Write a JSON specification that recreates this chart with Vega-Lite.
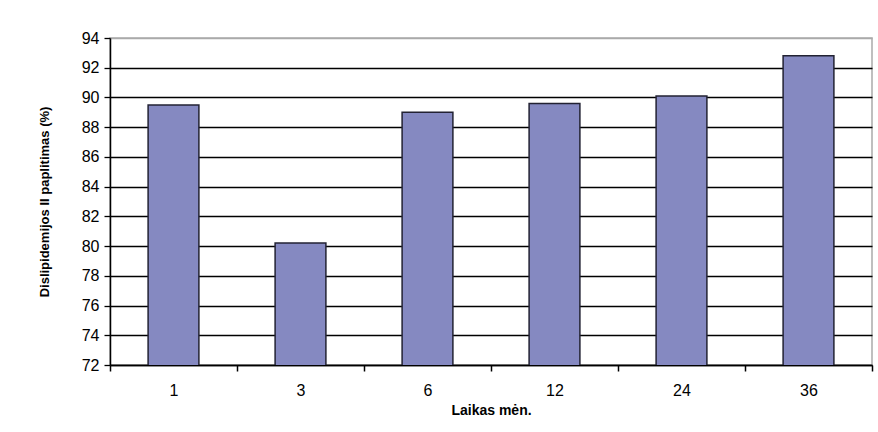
{
  "$schema": "https://vega.github.io/schema/vega-lite/v6.json",
  "width": 762,
  "height": 327,
  "autosize": {"type": "none"},
  "padding": {"left": 110, "top": 38, "right": 6, "bottom": 67},
  "background": "white",
  "data": {
    "values": [
      {"month": "1", "value": 89.5},
      {"month": "3", "value": 80.2},
      {"month": "6", "value": 89.0},
      {"month": "12", "value": 89.6},
      {"month": "24", "value": 90.1},
      {"month": "36", "value": 92.8}
    ]
  },
  "mark": {"type": "bar", "fill": "#8589C1", "stroke": "#222233", "strokeWidth": 1.5, "width": {"band": 0.4}, "clip": true},
  "encoding": {
    "x": {
      "field": "month",
      "type": "ordinal",
      "sort": null,
      "scale": {"paddingInner": 0, "paddingOuter": 0},
      "axis": {
        "title": "Laikas mėn.",
        "labelAngle": 0,
        "tickBand": "extent",
        "grid": false,
        "domainColor": "#000",
        "domainWidth": 1.5,
        "tickColor": "#000",
        "tickWidth": 1.5,
        "tickSize": 6,
        "labelPadding": 11,
        "labelFont": "Liberation Sans",
        "labelFontSize": 16,
        "labelColor": "#000",
        "titleFont": "Liberation Sans",
        "titleFontSize": 14,
        "titleFontWeight": "bold",
        "titleColor": "#000",
        "titlePadding": 5
      }
    },
    "y": {
      "field": "value",
      "type": "quantitative",
      "scale": {"domain": [72, 94], "zero": false, "nice": false},
      "axis": {
        "title": "Dislipidemijos II paplitimas (%)",
        "values": [72, 74, 76, 78, 80, 82, 84, 86, 88, 90, 92, 94],
        "grid": true,
        "gridColor": {"condition": {"test": "datum.value == 94", "value": "#aaaaaa"}, "value": "#000"},
        "gridOpacity": 1,
        "gridWidth": 1.3,
        "domainColor": "#000",
        "domainWidth": 1.5,
        "tickColor": "#000",
        "tickWidth": 1.3,
        "tickSize": 6,
        "labelPadding": 5,
        "labelFont": "Liberation Sans",
        "labelFontSize": 16,
        "labelColor": "#000",
        "titleFont": "Liberation Sans",
        "titleFontSize": 13,
        "titleFontWeight": "bold",
        "titleColor": "#000",
        "titlePadding": 30
      }
    }
  },
  "config": {
    "view": {"stroke": "#aaaaaa", "strokeWidth": 1.5}
  }
}
